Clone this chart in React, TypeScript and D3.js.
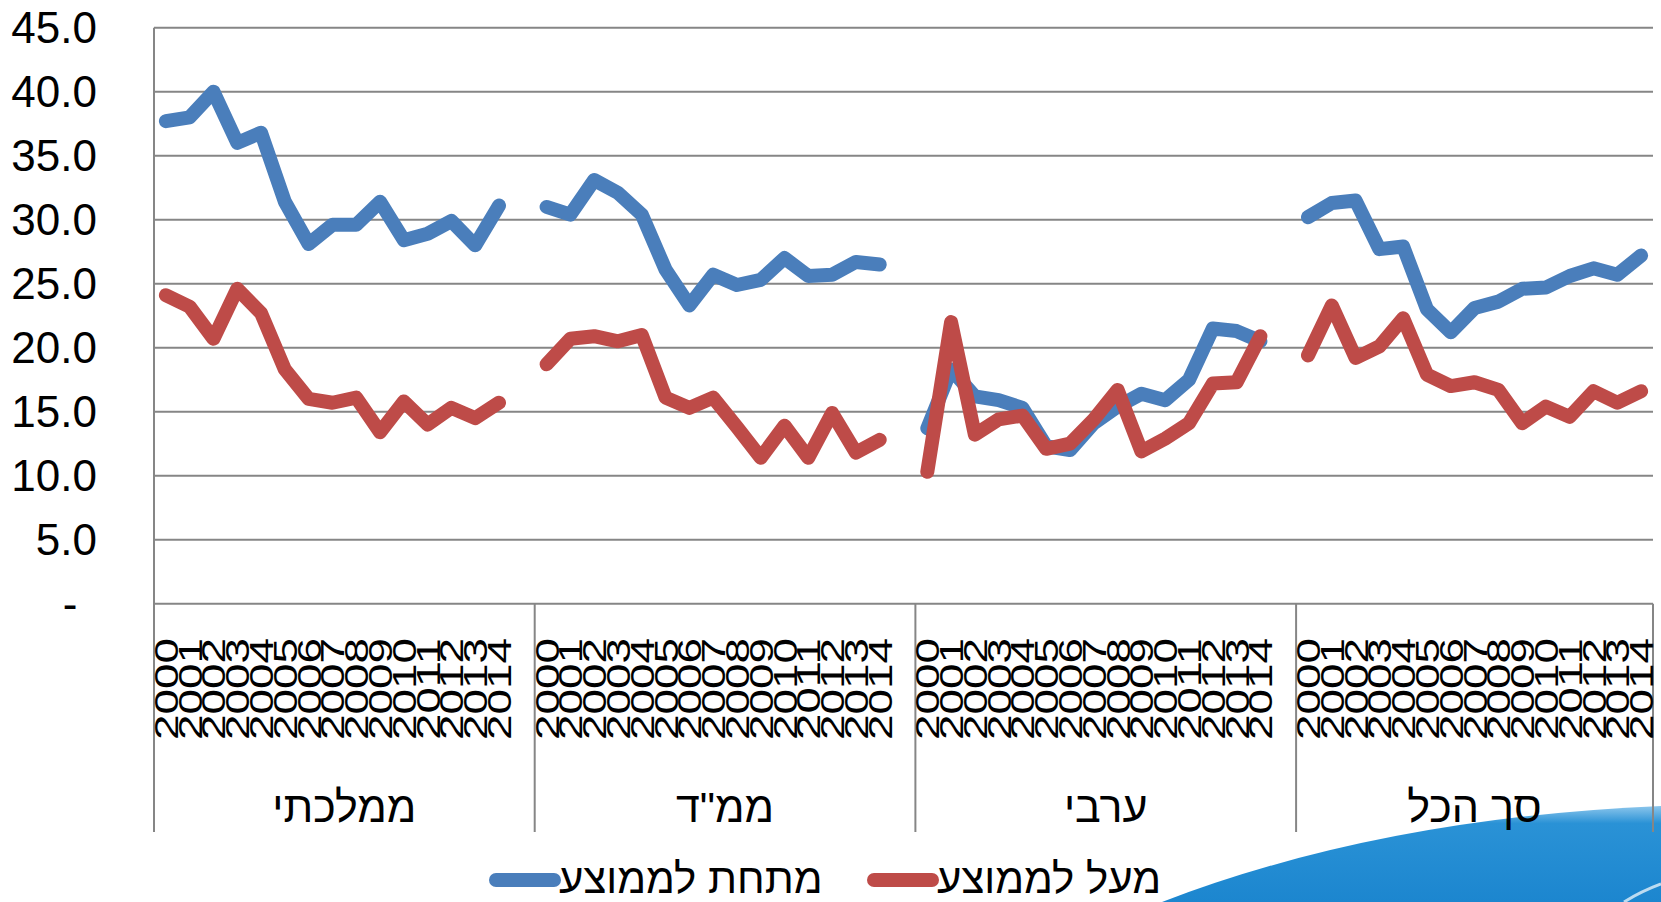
import React from 'react';
import * as d3 from 'd3';

// categories
const groups = ['ממלכתי', 'ממ"ד', 'ערבי', 'סך הכל'];
const years = ['2000', '2001', '2002', '2003', '2004', '2005', '2006', '2007', '2008', '2009', '2010', '2011', '2012', '2013', '2014'];
const yTicks = [0, 5, 10, 15, 20, 25, 30, 35, 40, 45];

// below average (blue)
const belowMamlachti = [37.7, 38.0, 40.0, 36.0, 36.8, 31.4, 28.1, 29.6, 29.6, 31.4, 28.4, 28.9, 29.9, 28.0, 31.1];
const belowMamad = [31.0, 30.4, 33.1, 32.1, 30.4, 26.1, 23.3, 25.7, 24.9, 25.3, 27.0, 25.6, 25.7, 26.7, 26.5];
const belowArab = [13.7, 18.3, 16.2, 15.9, 15.3, 12.3, 12.0, 14.1, 15.4, 16.4, 15.9, 17.5, 21.5, 21.3, 20.5];
const belowTotal = [30.2, 31.3, 31.5, 27.7, 27.9, 23.0, 21.2, 23.1, 23.6, 24.6, 24.7, 25.6, 26.2, 25.7, 27.2];

// above average (red)
const aboveMamlachti = [24.1, 23.2, 20.7, 24.6, 22.7, 18.3, 16.0, 15.7, 16.1, 13.4, 15.8, 14.0, 15.3, 14.5, 15.7];
const aboveMamad = [18.7, 20.7, 20.9, 20.5, 21.0, 16.1, 15.3, 16.1, 13.8, 11.4, 13.9, 11.4, 14.9, 11.8, 12.8];
const aboveArab = [10.3, 22.0, 13.2, 14.4, 14.7, 12.1, 12.5, 14.4, 16.7, 11.9, 12.9, 14.1, 17.2, 17.3, 20.9];
const aboveTotal = [19.4, 23.3, 19.2, 20.1, 22.3, 17.9, 17.0, 17.3, 16.7, 14.1, 15.4, 14.6, 16.6, 15.7, 16.6];

const series = [
  { name: 'מתחת לממוצע', color: '#4a7ebb', data: [belowMamlachti, belowMamad, belowArab, belowTotal] },
  { name: 'מעל לממוצע', color: '#be4b48', data: [aboveMamlachti, aboveMamad, aboveArab, aboveTotal] },
];

const W = 1661;
const H = 902;
const left = 154;
const right = 1653;
const top = 27.7;
const bottom = 603.7;
const axisBottom = 832;
const perGroup = years.length + 1; // blank slot between groups
const nCats = perGroup * groups.length - 1;

const font = '"Liberation Sans", Arial, sans-serif';

const App = () => {
  const x = d3
    .scaleBand<number>()
    .domain(d3.range(nCats))
    .range([left, right])
    .paddingInner(0)
    .paddingOuter(0);
  const bw = x.bandwidth();
  const cx = (i: number) => (x(i) || 0) + bw / 2;

  const y = d3.scaleLinear().domain([0, 45]).range([bottom, top]);

  const groupStart = (g: number) => x(g * perGroup) || left;
  const groupEnd = (g: number) =>
    g === groups.length - 1 ? right : groupStart(g + 1);

  return (
    <svg
      width={W}
      height={H}
      viewBox={`0 0 ${W} ${H}`}
      style={{ position: 'absolute', left: 0, top: 0, display: 'block', background: '#fff' }}
    >
      <defs>
        <linearGradient id="swoosh" x1="0" y1="0" x2="0" y2="1">
          <stop offset="0" stopColor="#8cc6ec" />
          <stop offset="0.18" stopColor="#2a92d6" />
          <stop offset="1" stopColor="#1c86cf" />
        </linearGradient>
      </defs>

      {/* decorative slide swoosh */}
      <path d="M1162,902 Q1380,818 1661,806 L1661,902 Z" fill="url(#swoosh)" />
      <path d="M1624,902 Q1642,891 1661,884" fill="none" stroke="#fff" strokeWidth={3} opacity={0.7} />

      {/* gridlines */}
      {yTicks.map((t) => (
        <line key={t} x1={left} x2={right} y1={y(t)} y2={y(t)} stroke="#868686" strokeWidth={2} />
      ))}

      {/* left axis + group dividers */}
      <line x1={left} x2={left} y1={top} y2={axisBottom} stroke="#868686" strokeWidth={2} />
      {groups.map((_, g) => (
        <line
          key={g}
          x1={groupEnd(g)}
          x2={groupEnd(g)}
          y1={bottom}
          y2={axisBottom}
          stroke="#868686"
          strokeWidth={2}
        />
      ))}

      {/* y tick labels */}
      {yTicks.map((t) => (
        <text
          key={t}
          x={t === 0 ? 70 : 97}
          y={y(t)}
          textAnchor={t === 0 ? 'middle' : 'end'}
          dominantBaseline="central"
          fontFamily={font}
          fontSize={44}
          fill="#000"
        >
          {t === 0 ? '-' : t.toFixed(1)}
        </text>
      ))}

      {/* year labels */}
      {groups.map((_, g) =>
        years.map((yr, k) => {
          const px = cx(g * perGroup + k);
          return (
            <text
              key={`${g}-${k}`}
              transform={`translate(${px},689) rotate(-90)`}
              textAnchor="middle"
              dominantBaseline="central"
              fontFamily={font}
              fontSize={34}
              textLength={102}
              lengthAdjust="spacingAndGlyphs"
              fill="#000"
            >
              {yr}
            </text>
          );
        })
      )}

      {/* group labels */}
      {groups.map((name, g) => (
        <text
          key={name}
          x={(groupStart(g) + groupEnd(g)) / 2}
          y={822}
          textAnchor="middle"
          fontFamily={font}
          fontSize={43}
          fill="#000"
        >
          {name}
        </text>
      ))}

      {/* series lines */}
      {series.map((s) =>
        s.data.map((vals, g) => (
          <path
            key={`${s.name}-${g}`}
            d={
              d3
                .line<number>()
                .x((_, i) => cx(g * perGroup + i))
                .y((d) => y(d))(vals) || ''
            }
            fill="none"
            stroke={s.color}
            strokeWidth={14}
            strokeLinejoin="round"
            strokeLinecap="round"
          />
        ))
      )}

      {/* legend */}
      {series.map((s, i) => {
        const lx = i === 0 ? 496 : 874;
        return (
          <g key={s.name}>
            <line x1={lx} x2={lx + 58} y1={880} y2={880} stroke={s.color} strokeWidth={14} strokeLinecap="round" />
            <text x={lx + 63} y={893} fontFamily={font} fontSize={42} fill="#000">
              {s.name}
            </text>
          </g>
        );
      })}
    </svg>
  );
};

export default App;
